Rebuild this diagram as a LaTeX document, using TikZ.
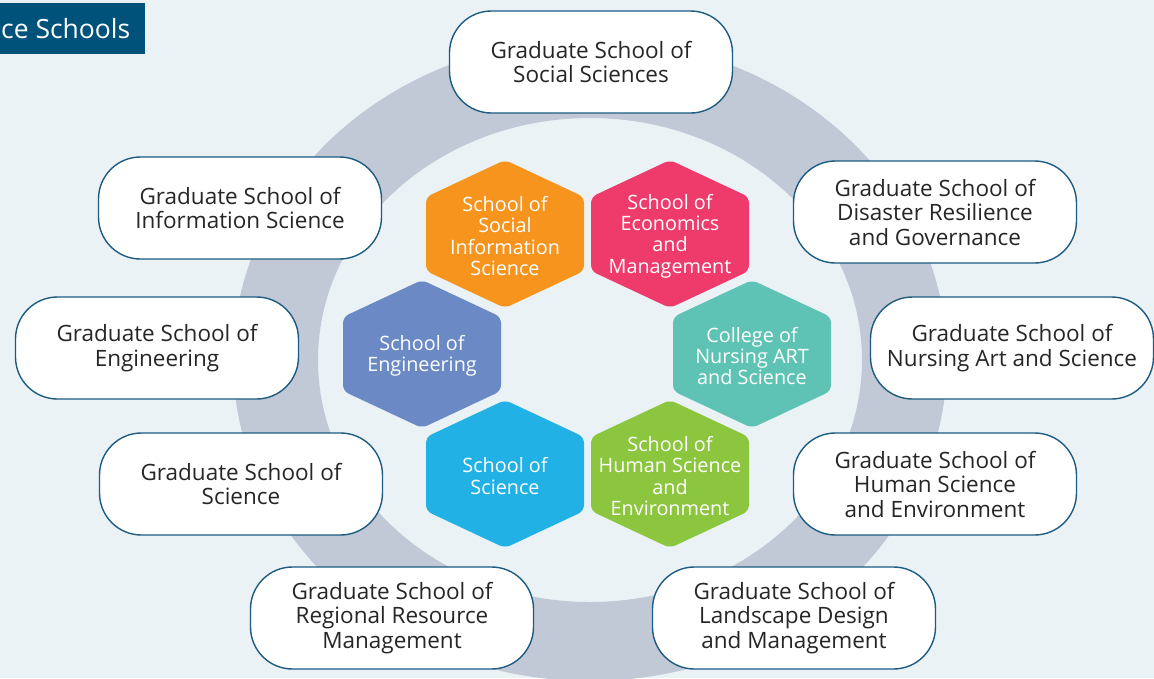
\documentclass[tikz,border=0pt]{standalone}
\usepackage{fontspec}
\setmainfont{Open Sans}
\usetikzlibrary{calc}
\definecolor{bgblue}{HTML}{EAF2F6}
\definecolor{ringgray}{HTML}{C1C8D6}
\definecolor{titleblue}{HTML}{00527A}
\definecolor{boxline}{HTML}{1D5B80}
\definecolor{txtgray}{HTML}{262626}
\definecolor{hexorange}{HTML}{F7941D}
\definecolor{hexpink}{HTML}{EE3B6C}
\definecolor{hexblue}{HTML}{6B89C5}
\definecolor{hexteal}{HTML}{5EC3B5}
\definecolor{hexcyan}{HTML}{21B1E4}
\definecolor{hexgreen}{HTML}{8CC63F}

\begin{document}
\begin{tikzpicture}[x=1pt,y=-1pt]
  \tikzstyle{grad}=[draw=boxline, line width=1.4pt, fill=white, rounded corners=42pt, minimum width=283pt, minimum height=102pt, align=center, text=txtgray, font=\fontsize{22.5}{24.5}\selectfont, inner sep=0pt]
  \tikzstyle{hexlabel}=[align=center, text=white, font=\fontsize{19.8}{21.4}\selectfont, inner sep=0pt]
  \fill[bgblue] (0,0) rectangle (1154,678);
  \useasboundingbox (0,0) rectangle (1154,678);
  % ring
  \begin{scope}
    \clip (0,0) rectangle (1154,678);
    \fill[ringgray, even odd rule] (590,360) ellipse [x radius=357pt, y radius=321pt] (590,360) ellipse [x radius=272pt, y radius=242pt];
  \end{scope}
  % title
  \fill[titleblue] (0,3) rectangle (145,54);
  \node[anchor=west, text=white, font=\fontsize{26.5}{26.5}\selectfont, inner sep=0pt] (title) at (1,29) {ce Schools};
  % schools
  \foreach \nm/\cx/\cy/\col/\txt in {
    hsi/505/234/hexorange/{School of\\Social\\Information\\Science},
    hem/670/234/hexpink/{School of\\Economics\\and\\Management},
    hen/422/354/hexblue/{School of\\Engineering},
    hnu/752/354/hexteal/{College of\\Nursing ART\\and Science},
    hsc/505/474/hexcyan/{School of\\Science},
    hhs/670/474/hexgreen/{School of\\Human Science\\and\\Environment}}
  {
    \fill[\col, rounded corners=6pt] (\cx,\cy-74) -- ++(79,37) -- ++(0,74) -- ++(-79,37) -- ++(-79,-37) -- ++(0,-74) -- cycle;
    \node[hexlabel] (\nm) at (\cx,\cy+2) {\txt};
  }
  % graduate schools
  \node[grad] (gss) at (591,62) {Graduate School of\\Social Sciences};
  \node[grad] (gis) at (240,208) {Graduate School of\\Information Science};
  \node[grad] (gdr) at (935,212) {Graduate School of\\Disaster Resilience\\and Governance};
  \node[grad] (gen) at (157,348) {Graduate School of\\Engineering};
  \node[grad] (gna) at (1012,348) {Graduate School of\\Nursing Art and Science};
  \node[grad] (gsc) at (241,484) {Graduate School of\\Science};
  \node[grad] (ghs) at (935,484) {Graduate School of\\Human Science\\and Environment};
  \node[grad] (grr) at (392,618) {Graduate School of\\Regional Resource\\Management};
  \node[grad] (gld) at (794,618) {Graduate School of\\Landscape Design\\and Management};
\end{tikzpicture}
\end{document}
